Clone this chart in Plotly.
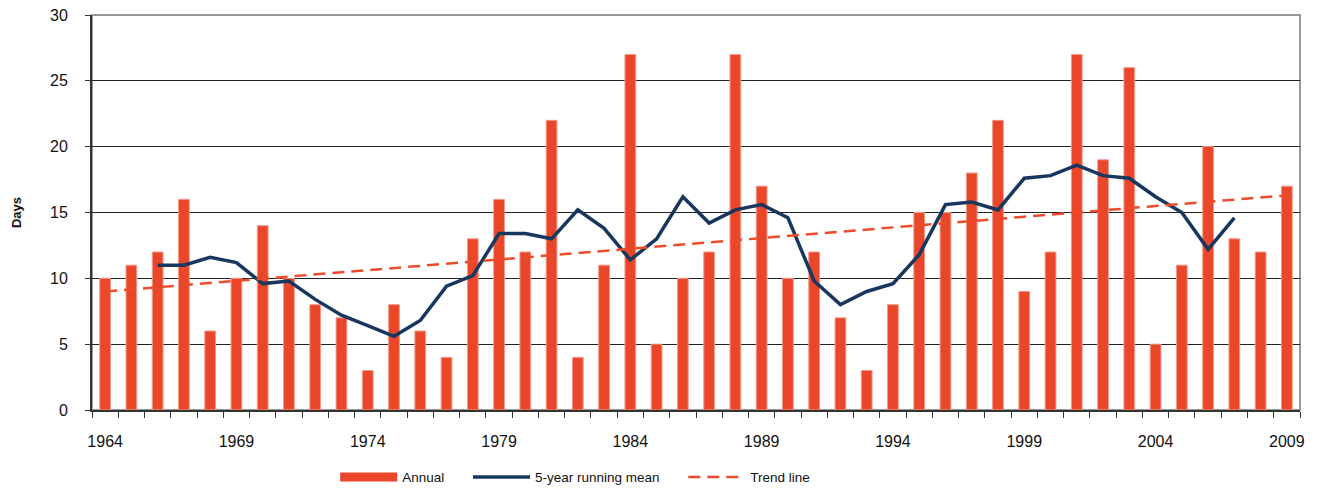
import plotly.graph_objects as go

years = list(range(1964, 2010))
annual = [10, 11, 12, 16, 6, 10, 14, 10, 8, 7, 3, 8, 6, 4, 13, 16, 12, 22, 4, 11,
          27, 5, 10, 12, 27, 17, 10, 12, 7, 3, 8, 15, 15, 18, 22, 9, 12, 27, 19, 26,
          5, 11, 20, 13, 12, 17]
mean_years = list(range(1966, 2008))
running_mean = [11.0, 11.0, 11.6, 11.2, 9.6, 9.8, 8.4, 7.2, 6.4, 5.6, 6.8, 9.4, 10.2,
                13.4, 13.4, 13.0, 15.2, 13.8, 11.4, 13.0, 16.2, 14.2, 15.2, 15.6, 14.6,
                9.8, 8.0, 9.0, 9.6, 11.8, 15.6, 15.8, 15.2, 17.6, 17.8, 18.6, 17.8,
                17.6, 16.2, 15.0, 12.2, 14.6]
trend_years = [1964, 2009]
trend_vals = [9.0, 16.3]
tick_years = [1964, 1969, 1974, 1979, 1984, 1989, 1994, 1999, 2004, 2009]
y_ticks = [0, 5, 10, 15, 20, 25, 30]

BAR = "#E9462A"
NAVY = "#17375E"
TREND = "#EE4B2B"
PAD = "\u00a0" * 5

fig = go.Figure()
fig.add_trace(go.Bar(x=years, y=annual, name="Annual", width=0.41, showlegend=False,
                     marker=dict(color=BAR, line=dict(color="#F29A88", width=1))))
# legend-only swatch for the bars (wide rectangle as in the reference)
fig.add_trace(go.Scatter(x=[None], y=[None], name="Annual" + PAD, mode="lines",
                         line=dict(color=BAR, width=9)))
fig.add_trace(go.Scatter(x=mean_years, y=running_mean, name="5-year running mean" + PAD,
                         mode="lines", line=dict(color=NAVY, width=3.5)))
fig.add_trace(go.Scatter(x=trend_years, y=trend_vals, name="Trend line",
                         mode="lines", line=dict(color=TREND, width=2.5, dash="12px,7px")))

fig.update_layout(
    width=1321, height=492,
    margin=dict(l=92, r=21, t=15, b=82, autoexpand=False),
    paper_bgcolor="white", plot_bgcolor="white",
    font=dict(family="Liberation Sans, Arial, sans-serif", size=16, color="#111"),
    showlegend=True,
    legend=dict(orientation="h", x=0.40, xanchor="center", y=-0.17, yanchor="middle",
                font=dict(size=13.5, family="Liberation Sans, Arial, sans-serif"),
                itemwidth=57),
    bargap=0.5,
    shapes=[dict(type="rect", xref="paper", yref="paper", x0=0, x1=1, y0=0, y1=1,
                 line=dict(color="#999999", width=2), layer="below")],
)
fig.update_xaxes(
    range=[1963.5, 2009.5], tickmode="array", tickvals=tick_years,
    ticktext=[str(t) for t in tick_years], ticks="outside", ticklen=0,
    tickfont=dict(size=16), showgrid=False, zeroline=False, automargin=False,
    showline=True, linecolor="#333", linewidth=2,
    minor=dict(tick0=1963.5, dtick=1, ticks="outside", ticklen=6,
               tickcolor="#333", tickwidth=1, showgrid=False),
    ticklabelstandoff=16,
)
fig.update_yaxes(
    range=[0, 30], tickmode="array", tickvals=y_ticks, ticks="outside", ticklen=5,
    tickcolor="#333", showgrid=True, gridcolor="#222", gridwidth=1, automargin=False,
    zeroline=False, showline=True, linecolor="#333", linewidth=2,
    title=dict(text="<b>Days</b>", font=dict(size=13), standoff=25),
    tickfont=dict(size=16), ticklabelstandoff=14,
)

fig.write_html("out.html", config={"displayModeBar": False},
               post_script="document.body.style.margin='0';document.body.style.overflow='hidden';")
